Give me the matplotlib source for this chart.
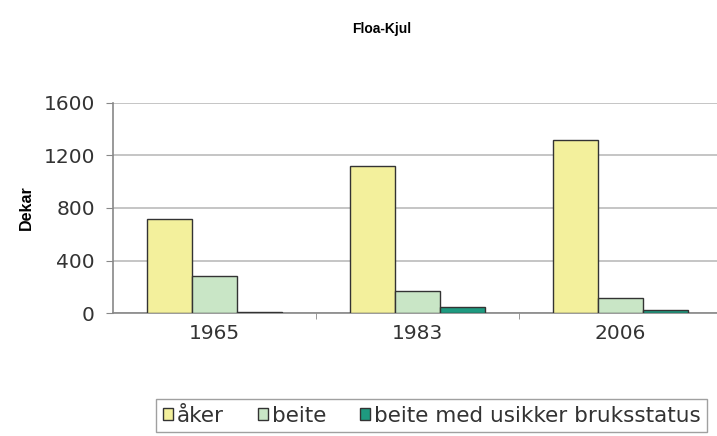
import matplotlib.pyplot as plt
import numpy as np

plt.rcParams['font.family'] = ['Liberation Sans', 'DejaVu Sans']

years = ["1965", "1983", "2006"]
aker = [715, 1120, 1315]
beite = [285, 168, 112]
usikker = [8, 45, 20]
series_names = ["åker", "beite", "beite med usikker bruksstatus"]
colors = ["#F3F09C", "#C9E6C6", "#1E9A80"]

wide = "DejaVu Sans"

fig = plt.figure(figsize=(7.17, 4.36), dpi=100)
ax = fig.add_axes([0.1576, 0.282, 0.8494, 0.482])

x = np.arange(len(years))
w = 0.222
for i, (vals, name, col) in enumerate(zip([aker, beite, usikker], series_names, colors)):
    ax.bar(x + (i - 1) * w, vals, w, color=col, edgecolor="#333333", linewidth=1.0,
           label=name, zorder=3)

ax.set_xlim(-0.5, 2.5)
ax.set_ylim(0, 1600)
ax.set_yticks([0, 400, 800, 1200, 1600])
ax.set_xticks(x)
ax.set_xticklabels(years, fontsize=14.5, color="#333333", family=wide)
ax.set_yticklabels(["0", "400", "800", "1200", "1600"], fontsize=14.5, color="#333333", family=wide)
ax.set_xticks([0.5, 1.5], minor=True)
ax.tick_params(axis="x", which="major", length=0, pad=8)
ax.tick_params(axis="x", which="minor", length=4, color="#888888", direction="out")
ax.tick_params(axis="y", length=5, color="#888888", pad=8)
ax.yaxis.grid(True, color="#BBBBBB", linewidth=1.2, zorder=0)
for s in ["top", "right"]:
    ax.spines[s].set_visible(False)
ax.spines["left"].set_color("#888888")
ax.spines["bottom"].set_color("#888888")
ax.spines["left"].set_linewidth(1.2)
ax.spines["bottom"].set_linewidth(1.2)

ax.set_ylabel("Dekar", fontsize=11.5, fontweight="bold", labelpad=7)
fig.text(0.532, 0.925, "Floa-Kjul", fontsize=10, fontweight="bold", ha="center")

leg = fig.legend(loc="lower left", bbox_to_anchor=(0.203, -0.016), ncol=3,
                 prop={"family": wide, "size": 15.5},
                 frameon=True, fancybox=False, edgecolor="#888888", handlelength=0.47,
                 handleheight=0.47, handletextpad=0.2, columnspacing=1.55, borderpad=0.3)
for t in leg.get_texts():
    t.set_color("#333333")

fig.savefig("out.png", dpi=100)
